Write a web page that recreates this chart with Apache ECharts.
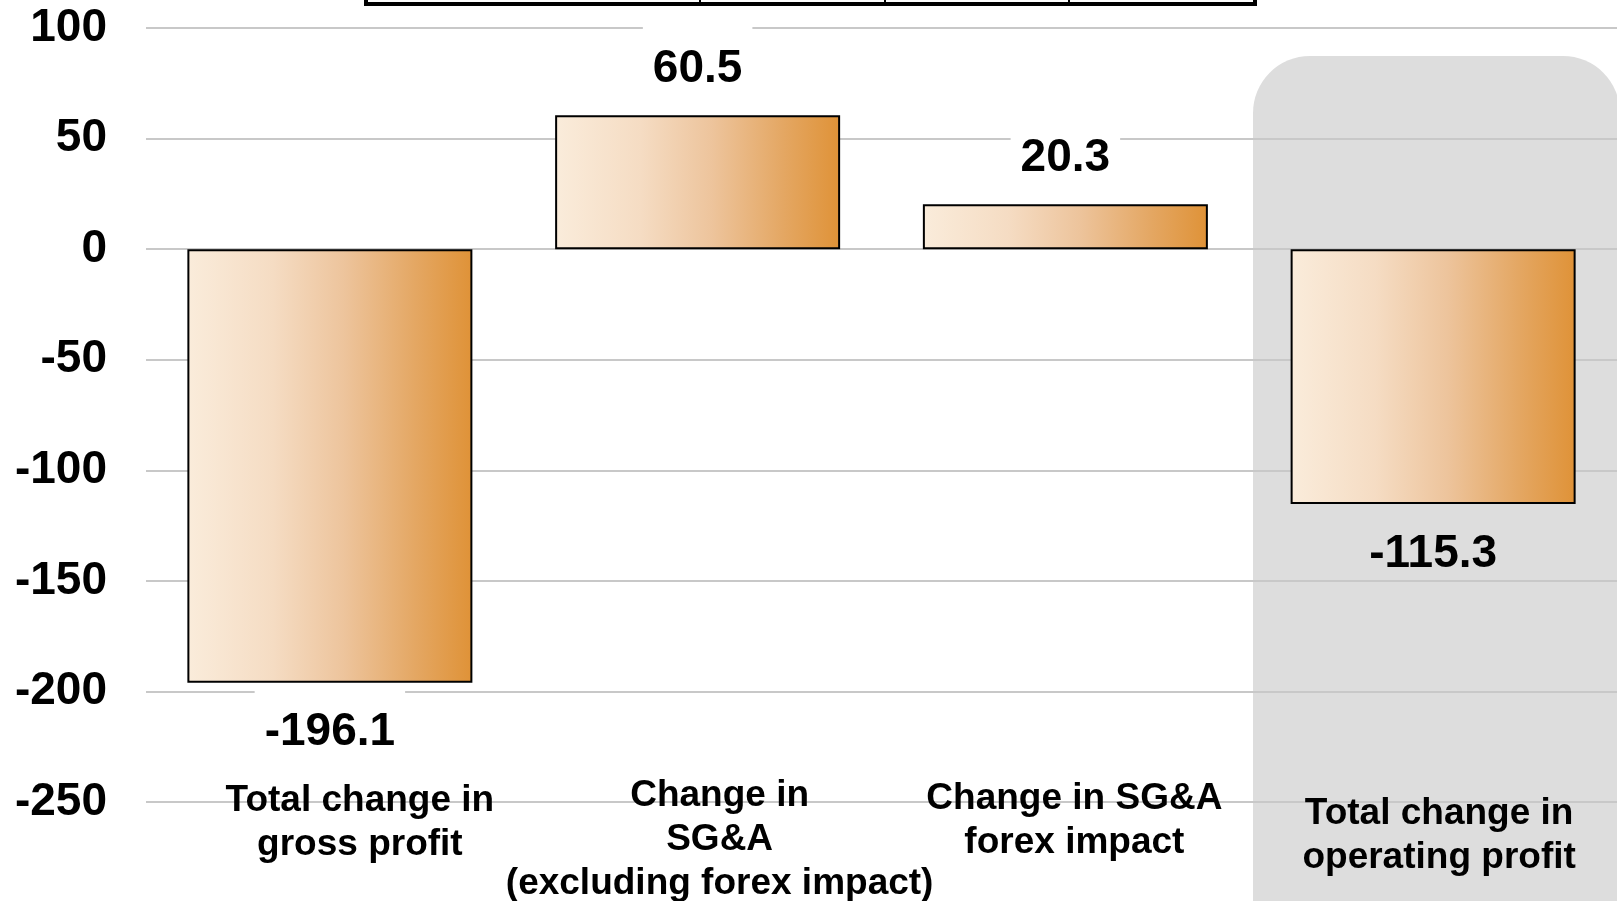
<!DOCTYPE html>
<html>
<head>
<meta charset="utf-8">
<script src="https://cdn.jsdelivr.net/npm/echarts@6/dist/echarts.min.js"></script>
<style>
    html, body { margin: 0; padding: 0; background: #fff; }
    #chart { width: 1617px; height: 901px; }
</style>
</head>
<body>
<div id="chart"></div>
<script>
const categories = [
    'Total change in\ngross profit',
    'Change in\nSG&A\n(excluding forex impact)',
    'Change in SG&A\nforex impact',
    'Total change in\noperating profit'
];
const values = [-196.1, 60.5, 20.3, -115.3];
const yTicks = { min: -250, max: 100, step: 50 };

const font = '"Liberation Sans", Arial, sans-serif';
// small nudges so the category captions sit like in the slide
const captionShift = [[60, 5], [44, 0], [18, 3], [12, 18]];

let chartDom = document.getElementById('chart');
let myChart = echarts.init(chartDom);

const barFill = new echarts.graphic.LinearGradient(0, 0, 1, 0, [
    {offset: 0, color: '#faecdb'},
    {offset: 0.3, color: '#f5dcc3'},
    {offset: 0.55, color: '#edc49c'},
    {offset: 0.8, color: '#e4a763'},
    {offset: 1, color: '#df9237'}
]);

const categoryData = categories.map((c, i) => ({
    value: c,
    textStyle: {padding: [captionShift[i][1], 0, 0, captionShift[i][0]]}
}));

const barData = values.map((v, i) => {
    const isTotal = i === values.length - 1;
    return {
        value: v,
        label: v >= 0
            ? {position: 'top', distance: 8, padding: [20, 10, 14, 10]}
            : {position: 'bottom', distance: 6, padding: [20, 10, 6, 10],
               backgroundColor: isTotal ? 'transparent' : '#fff'}
    };
});

const option = {
    animation: false,
    grid: {
        left: 146,
        right: 0,
        top: 28,
        bottom: 99,
        containLabel: false,
        outerBoundsMode: 'none'
    },
    graphic: [
        {
            type: 'rect',
            z: -10,
            shape: {x: 1253, y: 56, width: 367, height: 900, r: 57},
            style: {fill: '#dddddd'}
        },
        {
            type: 'rect',
            shape: {x: 366, y: -40, width: 889, height: 44},
            style: {fill: 'none', stroke: '#000', lineWidth: 4}
        },
        {type: 'line', shape: {x1: 700, y1: -5, x2: 700, y2: 3}, style: {stroke: '#000', lineWidth: 2}},
        {type: 'line', shape: {x1: 885, y1: -5, x2: 885, y2: 3}, style: {stroke: '#000', lineWidth: 2}},
        {type: 'line', shape: {x1: 1069, y1: -5, x2: 1069, y2: 3}, style: {stroke: '#000', lineWidth: 2}}
    ],
    xAxis: {
        type: 'category',
        data: categoryData,
        axisLine: {show: false},
        axisTick: {show: false},
        axisLabel: {
            interval: 0,
            margin: -28,
            fontSize: 37,
            fontWeight: 'bold',
            fontFamily: font,
            color: '#000',
            lineHeight: 44
        }
    },
    yAxis: {
        type: 'value',
        min: yTicks.min,
        max: yTicks.max,
        interval: yTicks.step,
        axisLine: {show: false},
        axisTick: {show: false},
        axisLabel: {
            margin: 39,
            fontSize: 46,
            fontWeight: 'bold',
            fontFamily: font,
            color: '#000',
            padding: [8, 0, 0, 0]
        },
        splitLine: {
            lineStyle: {color: '#c8c8c8', width: 2}
        }
    },
    series: [
        {
            type: 'bar',
            data: barData,
            barWidth: 285,
            itemStyle: {
                color: barFill,
                borderColor: '#000',
                borderWidth: 2
            },
            label: {
                show: true,
                formatter: '{c}',
                fontSize: 46,
                fontWeight: 'bold',
                fontFamily: font,
                color: '#000',
                lineHeight: 48,
                backgroundColor: '#fff'
            }
        }
    ]
};

myChart.setOption(option);
</script>
</body>
</html>
